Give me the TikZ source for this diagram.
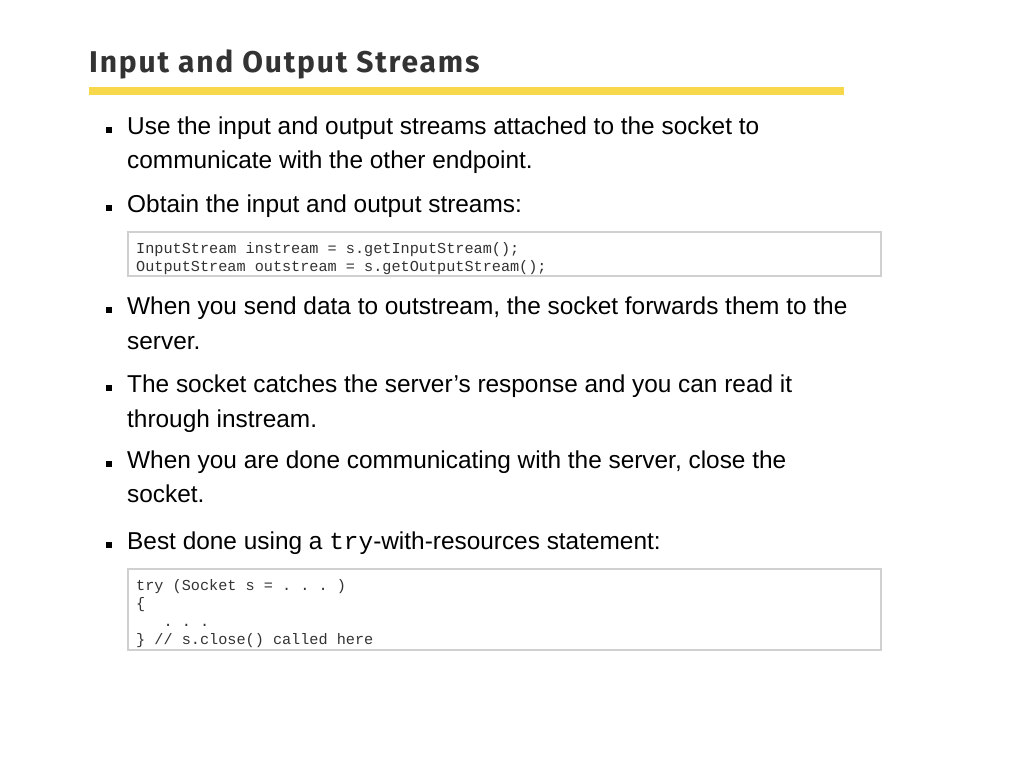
\documentclass[tikz,border=0pt]{standalone}
\usepackage{fontspec}
\setmainfont{Liberation Sans}
\setmonofont{Liberation Mono}
\newfontfamily\titlefont[LetterSpace=6]{Fira Sans}
\usetikzlibrary{positioning}
\definecolor{titlegray}{HTML}{333333}
\definecolor{baryellow}{HTML}{F6D84A}
\definecolor{boxgray}{HTML}{D0D0D0}
\begin{document}
\begin{tikzpicture}[x=1pt, y=-1pt]
    \tikzset{
        txt/.style      =   { anchor=base west
                            , inner sep=0pt
                            , font=\fontsize{24.4}{28}\selectfont
        }
        , bul/.style    =   { fill=black
                            , minimum size=6pt
                            , inner sep=0pt
        }
        , codebox/.style =  { draw=boxgray
                            , line width=1.2pt
                            , fill=white
        }
        , code/.style   =   { anchor=base west
                            , inner sep=0pt
                            , text=titlegray
                            , font=\ttfamily\fontsize{15.2}{18}\selectfont
        }
    }
    \useasboundingbox[fill=white] (0,0) rectangle (1024,768);
    % title and bar
    \node(title)[anchor=base west, inner sep=0pt, text=titlegray,
        font=\titlefont\bfseries\fontsize{30}{34}\selectfont] at (89,72) {Input and Output Streams};
    \fill[baryellow] (89,87) rectangle (844,95);

    % bullets
    \foreach \y in {127,205,307,385,461,542}
        \node[bul] at (109,\y+3) {};

    \node(l1)[txt] at (127,134) {Use the input and output streams attached to the socket to};
    \node(l1b)[txt] at (127,168) {communicate with the other endpoint.};
    \node(l2)[txt] at (127,212) {Obtain the input and output streams:};

    \draw[codebox] (128,232) rectangle (881,276);
    \node(c1)[code] at (136,253) {InputStream instream = s.getInputStream();};
    \node(c2)[code] at (136,271) {OutputStream outstream = s.getOutputStream();};

    \node(l3)[txt] at (127,314) {When you send data to outstream, the socket forwards them to the};
    \node(l3b)[txt] at (127,349) {server.};
    \node(l4)[txt] at (127,392) {The socket catches the server’s response and you can read it};
    \node(l4b)[txt] at (127,427) {through instream.};
    \node(l5)[txt] at (127,468) {When you are done communicating with the server, close the};
    \node(l5b)[txt] at (127,502) {socket.};
    \node(l6)[txt] at (127,549) {Best done using a {\ttfamily try}-with-resources statement:};

    \draw[codebox] (128,569) rectangle (881,650);
    \node(d1)[code] at (136,590) {try (Socket s = . . . )};
    \node(d2)[code] at (136,608) {\{};
    \node(d3)[code] at (136,626) {\ \ \ . . .};
    \node(d4)[code] at (136,644) {\} // s.close() called here};
\end{tikzpicture}
\end{document}
